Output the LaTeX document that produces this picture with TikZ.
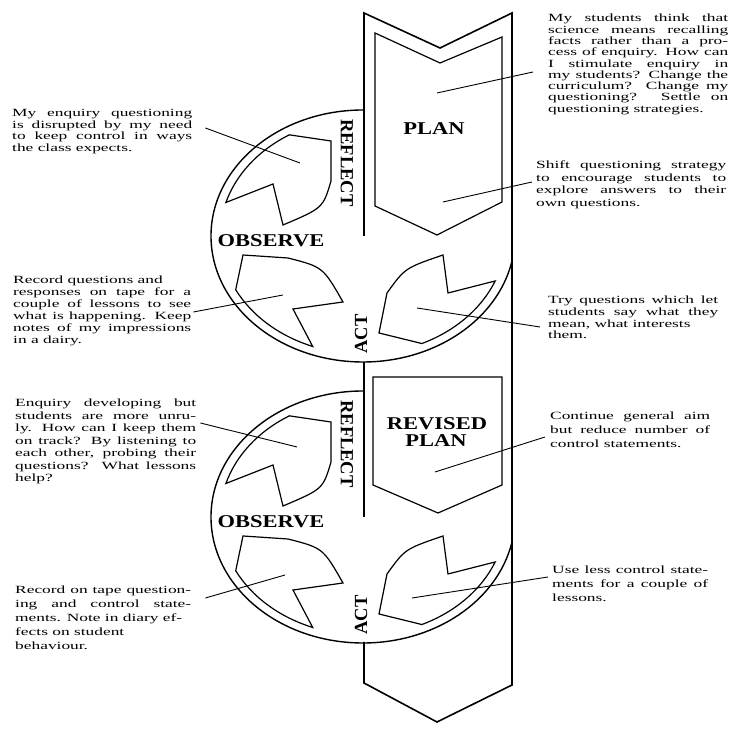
\documentclass[tikz,border=0pt]{standalone}
\usepackage{fontspec}
\newfontfamily\notefont[FakeStretch=1.58]{Liberation Serif}
\newfontfamily\stagefont[FakeStretch=1.25]{Liberation Serif}
\newfontfamily\sidefont{Liberation Serif}
\tolerance=9999
\hyphenpenalty=10000

\begin{document}
\begin{tikzpicture}[
    band/.style={line width=1.6pt},
    ring/.style={line width=1.4pt},
    piece/.style={line width=1.2pt},
    lead/.style={line width=0.9pt},
    note/.style 2 args={anchor=north west, inner sep=0pt, text width=#1, align=justify,
      font=\notefont\fontsize{11}{#2}\selectfont},
    stage/.style={font=\stagefont\bfseries\fontsize{18}{16}\selectfont, inner sep=0pt},
    side/.style={font=\sidefont\bfseries\fontsize{18.5}{18}\selectfont, inner sep=0pt},
    x=1pt,y=1pt
    ]
    \useasboundingbox (0,0) rectangle (730,735);

    \draw[band] (364,499) -- (364,722) -- (440,687) -- (512,722) -- (512,50) -- (437,13) -- (364,52) -- (364,93);
    \draw[band] (364,373) -- (364,218);

    \draw[piece] (375,702) -- (440,672) -- (502,698) -- (502,533) -- (437,500) -- (375,529) -- cycle;
    \node[stage] (plan) at (434,606) {PLAN};
    \coordinate (recall-end) at (437,642);
    \coordinate (shift-end) at (443,533);

    \draw[piece] (373,358) -- (502,358) -- (502,250) -- (438,222) -- (373,250) -- cycle;
    \node[stage] (revised) at (437,311) {REVISED};
    \node[stage] (revplan) at (436,294) {PLAN};
    \coordinate (reduce-end) at (435,263);

    \begin{scope}[shift={(363,499)}]
      \draw[ring] (0,126) arc[start angle=90, end angle=348, x radius=152, y radius=126];
      \draw[piece] (121:143 and 118) -- (-32,95) -- (-32,55) .. controls (-40,28) .. (-80,11) -- (-90,52)
        -- (163.5:143 and 118) arc[start angle=163.5, end angle=121, x radius=143, y radius=118] -- cycle;
      \draw[piece] (-120,-19) -- (-75,-22) .. controls (-40,-31) .. (-20,-66) -- (-70,-73)
        -- (249.4:143 and 118) arc[start angle=249.4, end angle=207.1, x radius=143, y radius=118] -- cycle;
      \draw[piece] (80,-19) -- (85,-57) -- (337.6:143 and 118) arc[start angle=337.6, end angle=294.3, x radius=143, y radius=118]
        -- (16,-97) -- (24,-57) .. controls (42,-32) .. (80,-19) -- cycle;
      \node[side, rotate=-90] (reflect1) at (-16,73) {REFLECT};
      \node[stage] (observe1) at (-92,-5) {OBSERVE};
      \node[side, rotate=90] (act1) at (-2,-98) {ACT};
      \coordinate (disrupt-end) at (-63,73);
      \coordinate (record-end) at (-80,-59);
      \coordinate (try-end) at (54,-72);
    \end{scope}

    \begin{scope}[shift={(363,218)}]
      \draw[ring] (0,126) arc[start angle=90, end angle=348, x radius=152, y radius=126];
      \draw[piece] (121:143 and 118) -- (-32,95) -- (-32,55) .. controls (-40,28) .. (-80,11) -- (-90,52)
        -- (163.5:143 and 118) arc[start angle=163.5, end angle=121, x radius=143, y radius=118] -- cycle;
      \draw[piece] (-120,-19) -- (-75,-22) .. controls (-40,-31) .. (-20,-66) -- (-70,-73)
        -- (249.4:143 and 118) arc[start angle=249.4, end angle=207.1, x radius=143, y radius=118] -- cycle;
      \draw[piece] (80,-19) -- (85,-57) -- (337.6:143 and 118) arc[start angle=337.6, end angle=294.3, x radius=143, y radius=118]
        -- (16,-97) -- (24,-57) .. controls (42,-32) .. (80,-19) -- cycle;
      \node[side, rotate=-90] (reflect2) at (-16,73) {REFLECT};
      \node[stage] (observe2) at (-92,-5) {OBSERVE};
      \node[side, rotate=90] (act2) at (-2,-98) {ACT};
      \coordinate (unruly-end) at (-66,70);
      \coordinate (tape-end) at (-78,-58);
      \coordinate (less-end) at (49,-81);
    \end{scope}

    \node[note={180pt}{11.7}] (disrupt) at (12,626) {My enquiry questioning\linebreak is disrupted by my need\linebreak to keep control in ways\linebreak the class expects.};
    \node[note={180pt}{11.3}] (recall) at (548,721) {My students think that\linebreak science means recalling\linebreak facts rather than a pro-\linebreak cess of enquiry. How can\linebreak I stimulate enquiry in\linebreak my students? Change the\linebreak curriculum? Change my\linebreak questioning? Settle on\linebreak questioning strategies.};
    \node[note={190pt}{12.5}] (shift) at (536,574) {Shift questioning strategy\linebreak to encourage students to\linebreak explore answers to their\linebreak own questions.};
    \node[note={178pt}{12}] (record) at (13,459) {Record questions and\newline responses on tape for a\linebreak couple of lessons to see\linebreak what is happening. Keep\linebreak notes of my impressions\linebreak in a dairy.};
    \node[note={170pt}{11.7}] (try) at (548,439) {Try questions which let\linebreak students say what they\linebreak mean, what interests\newline them.};
    \node[note={181pt}{12.5}] (unruly) at (15,336) {Enquiry developing but\linebreak students are more unru-\linebreak ly. How can I keep them\linebreak on track? By listening to\linebreak each other, probing their\linebreak questions? What lessons\linebreak help?};
    \node[note={160pt}{14}] (reduce) at (550,323) {Continue general aim\linebreak but reduce number of\linebreak control statements.};
    \node[note={156pt}{14}] (less) at (552,169) {Use less control state-\linebreak ments for a couple of\linebreak lessons.};
    \node[note={176pt}{14}] (tape) at (15,149) {Record on tape question-\linebreak ing and control state-\linebreak ments. Note in diary ef-\newline fects on student\newline behaviour.};

    \draw[lead] ([shift={(13,-19)}]disrupt.north east) -- (disrupt-end);
    \draw[lead] ([shift={(-15,-58)}]recall.north west) -- (recall-end);
    \draw[lead] ([shift={(-4,-21)}]shift.north west) -- (shift-end);
    \draw[lead] ([shift={(2,-36)}]record.north east) -- (record-end);
    \draw[lead] ([shift={(-8,-31)}]try.north west) -- (try-end);
    \draw[lead] ([shift={(4,-24)}]unruly.north east) -- (unruly-end);
    \draw[lead] ([shift={(-5,-25)}]reduce.north west) -- (reduce-end);
    \draw[lead] ([shift={(-4,-11)}]less.north west) -- (less-end);
    \draw[lead] ([shift={(14,-12)}]tape.north east) -- (tape-end);
  \end{tikzpicture}
\end{document}
